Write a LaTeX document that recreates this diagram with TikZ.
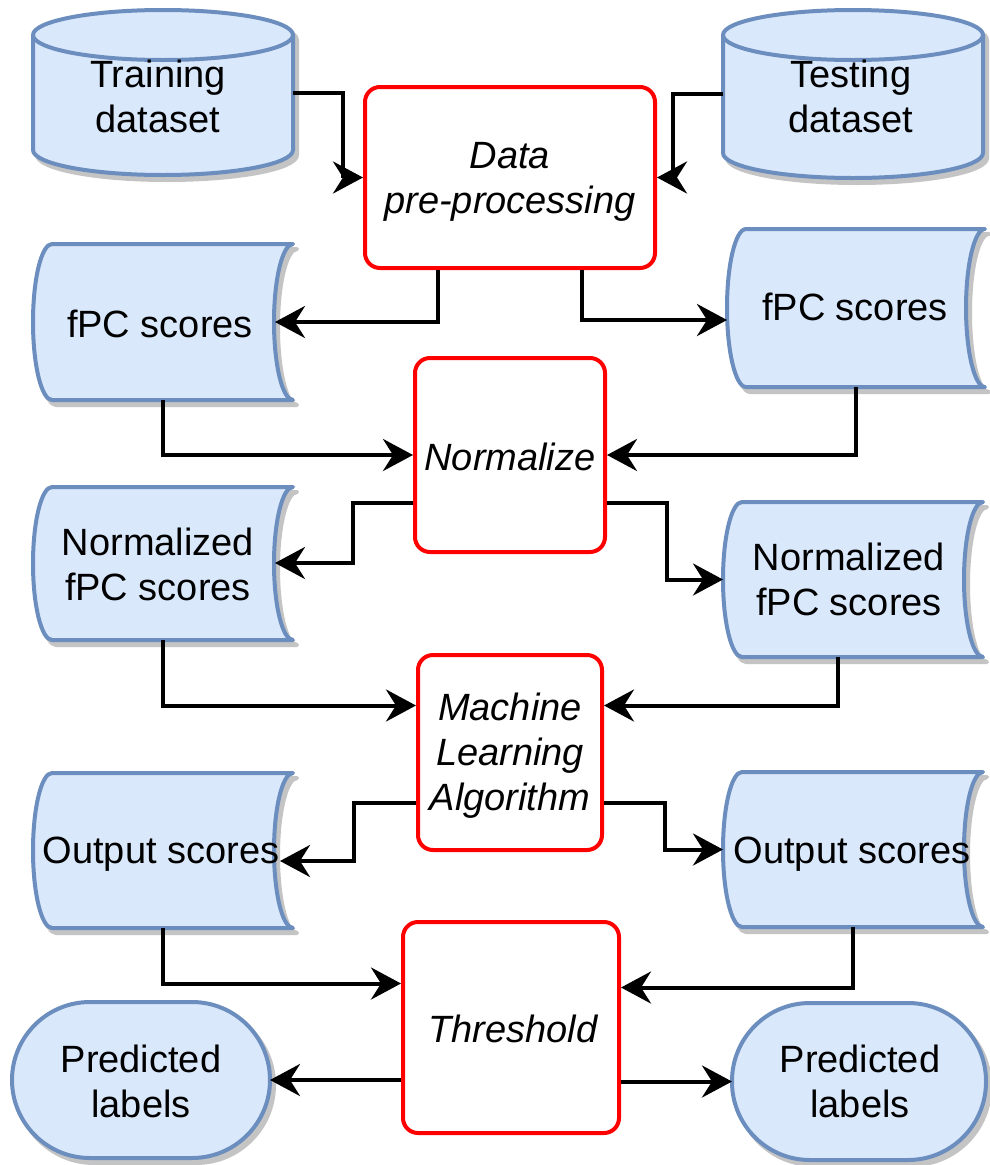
\documentclass[tikz,border=0pt]{standalone}
\usepackage{fontspec}
\setmainfont{Liberation Sans}
\usetikzlibrary{arrows.meta}
\definecolor{dfill}{HTML}{DAE8FC}
\definecolor{dline}{HTML}{6C8EBF}
\definecolor{shade}{HTML}{C4C4C4}
\definecolor{pred}{HTML}{FF0000}
\tikzset{
  lbl/.style={inner sep=0pt, align=center, font=\fontsize{38}{45}\selectfont},
  plbl/.style={inner sep=0pt, align=center, font=\fontsize{38}{45}\selectfont\itshape},
  proc/.style={draw=pred, line width=4pt, rounded corners=15pt, fill=white, inner sep=0pt},
  dshape/.style={draw=dline, fill=dfill, line width=4pt, line join=round},
  sshape/.style={draw=shade, fill=shade, line width=4pt, line join=round},
  conn/.style={line width=4pt, -{Stealth[length=30pt,width=32pt,inset=10pt]}},
  seg/.style={line width=4pt},
}
% helper: invisible area node covering a shape (x1, top, x2, bottom in pixels)
\newcommand{\areanode}[5]{%
  \node[inner sep=0pt, outer sep=0pt, minimum width={#4-#2}, minimum height={#5-#3}] (#1) at ({(#2+#4)/2},{-(#3+#5)/2}) {};}
% cylinder body
\newcommand{\cylbody}[5]{%
  \pgfmathsetmacro{\rxv}{(#4-#2)/2}%
  \draw[#1] (#2,-#3-25) -- (#2,-#5+25) arc[start angle=180,end angle=360,x radius=\rxv,y radius=25]
     -- (#4,-#3-25) arc[start angle=0,end angle=180,x radius=\rxv,y radius=25] -- cycle;}
\newcommand{\cylshape}[5]{%
  \cylbody{sshape,shift={(4,-5)}}{#2}{#3}{#4}{#5}%
  \cylbody{dshape}{#2}{#3}{#4}{#5}%
  \pgfmathsetmacro{\rxv}{(#4-#2)/2}%
  \draw[dshape, fill=none] (#2,-#3-25) arc[start angle=180,end angle=360,x radius=\rxv,y radius=25];
  \areanode{#1}{#2}{#3}{#4}{#5}}
% stored-data shape
\newcommand{\storebody}[5]{%
  \pgfmathsetmacro{\hv}{(#5-#3)/2}%
  \draw[#1] (#2+19,-#3) -- (#4,-#3) arc[start angle=90,end angle=270,x radius=19,y radius=\hv]
     -- (#2+19,-#5) arc[start angle=270,end angle=90,x radius=19,y radius=\hv] -- cycle;}
\newcommand{\storeshape}[5]{%
  \storebody{sshape,shift={(4,-5)}}{#2}{#3}{#4}{#5}%
  \storebody{dshape}{#2}{#3}{#4}{#5}%
  \areanode{#1}{#2}{#3}{#4}{#5}}
% terminator (stadium) shape
\newcommand{\termshape}[5]{%
  \draw[sshape, rounded corners=78pt, shift={(4,-5)}] (#2,-#3) rectangle (#4,-#5);
  \draw[dshape, rounded corners=78pt] (#2,-#3) rectangle (#4,-#5);
  \areanode{#1}{#2}{#3}{#4}{#5}}

\begin{document}
\begin{tikzpicture}[x=1pt,y=1pt]
\useasboundingbox (0,0) rectangle (990,-1165);
\fill[white] (0,0) rectangle (990,-1165);

% data shapes
\cylshape{train}{33}{10}{293}{175}
\cylshape{test}{723}{10}{983}{178}
\storeshape{fpcL}{33}{244}{293}{400}
\storeshape{fpcR}{727}{229}{985}{387}
\storeshape{nfpcL}{33}{487}{293}{640}
\storeshape{nfpcR}{723}{502}{983}{657}
\storeshape{outL}{33}{773}{293}{928}
\storeshape{outR}{723}{772}{983}{927}
\termshape{predL}{12}{1002}{270}{1158}
\termshape{predR}{732}{1003}{986}{1160}

% process boxes
\node[proc, minimum width=290pt, minimum height=181pt] (data) at (510,-177.5) {};
\node[proc, minimum width=190pt, minimum height=194pt] (norm) at (510,-455) {};
\node[proc, minimum width=184pt, minimum height=195pt] (ml) at (510,-752.5) {};
\node[proc, minimum width=216pt, minimum height=211pt] (thr) at (511,-1027.5) {};

% texts
\node[lbl] (trainT) at (158,-100.5) {Training\strut\\dataset\strut};
\node[lbl] (testT) at (851,-100.5) {Testing\strut\\dataset\strut};
\node[plbl] (dataT) at (510,-181.5) {Data\strut\\pre-processing\strut};
\node[lbl] (fpcLT) at (160,-328) {fPC scores\strut};
\node[lbl] (fpcRT) at (855,-311) {fPC scores\strut};
\node[plbl] (normT) at (510,-461) {Normalize\strut};
\node[lbl] (nfpcLT) at (158,-568.5) {Normalized\strut\\fPC scores\strut};
\node[lbl] (nfpcRT) at (849,-583.5) {Normalized\strut\\fPC scores\strut};
\node[plbl] (mlT) at (510,-756) {Machine\strut\\Learning\strut\\Algorithm\strut};
\node[lbl] (outLT) at (161,-854) {Output scores\strut};
\node[lbl] (outRT) at (852,-854) {Output scores\strut};
\node[plbl] (thrT) at (513,-1033) {Threshold\strut};
\node[lbl] (predLT) at (141,-1085.5) {Predicted\strut\\labels\strut};
\node[lbl] (predRT) at (860,-1085.5) {Predicted\strut\\labels\strut};

% connector bend points and end points on concave sides
\coordinate (tbend) at (343,-177.5);
\coordinate (sbend) at (673,-177.5);
\coordinate (fpcLr) at (275,-322);
\coordinate (nfpcLr) at (275,-563);
\coordinate (outLr) at (280,-861);

% connectors
\draw[seg] (train.east) -| (tbend);
\draw[conn] (tbend) -- (data.west);
\draw[seg] (test.west) -| (sbend);
\draw[conn] (sbend) -- (data.east);
\draw[conn] ([xshift=-72pt]data.south) |- (fpcLr);
\draw[conn] ([xshift=72pt]data.south) |- ([yshift=-12pt]fpcR.west);
\draw[conn] (fpcL.south) |- (norm.west);
\draw[conn] (fpcR.south) |- (norm.east);
\draw[conn] ([yshift=-48pt]norm.west) -- ++(-60,0) |- (nfpcLr);
\draw[conn] ([yshift=-48pt]norm.east) -- ++(60,0) |- (nfpcR.west);
\draw[conn] (nfpcL.south) |- ([yshift=47pt]ml.west);
\draw[conn] ([xshift=-15pt]nfpcR.south) |- ([yshift=47pt]ml.east);
\draw[conn] ([yshift=-50pt]ml.west) -- ++(-62,0) |- (outLr);
\draw[conn] ([yshift=-50pt]ml.east) -- ++(61,0) |- (outR.west);
\draw[conn] (outL.south) |- ([yshift=44pt]thr.west);
\draw[conn] (outR.south) |- ([yshift=40pt]thr.east);
\draw[conn] (thr.west |- predL.east) -- (predL.east);
\draw[conn] (thr.east |- predR.west) -- (predR.west);
\end{tikzpicture}
\end{document}
